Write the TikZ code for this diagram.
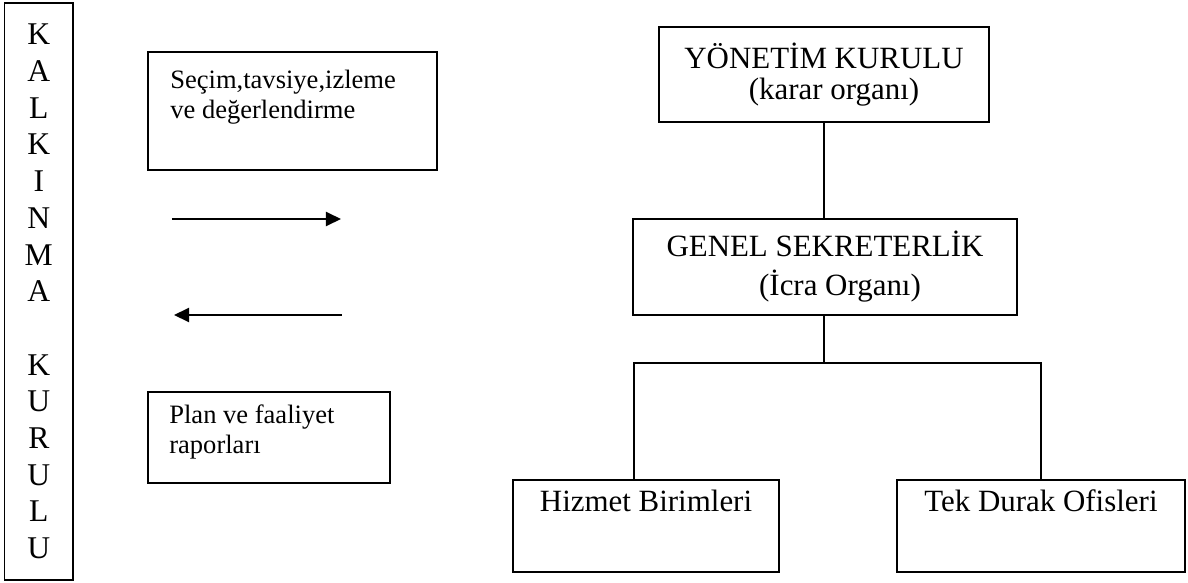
\documentclass[tikz,border=0pt]{standalone}
\usepackage{fontspec}
\setmainfont{Liberation Serif}
\usetikzlibrary{arrows.meta}

\begin{document}
\begin{tikzpicture}[scale=0.2]
\tikzstyle{every node}+=[inner sep=0pt]
\tikzstyle{kutu}=[draw, line width=1pt]
\tikzstyle{buyuk}=[font=\fontsize{17.6}{17.6}\selectfont, align=center]
\tikzstyle{kucuk}=[font=\fontsize{15.1}{17.2}\selectfont, align=left, anchor=north west]
\tikzstyle{ok}=[line width=1.1pt, -{Triangle[length=0.3cm, width=0.28cm]}]
\useasboundingbox (0,0) rectangle (118.8,-58.2);
% sol taraf
\node [kutu, minimum width=1.37cm, minimum height=11.54cm, align=center, font=\fontsize{18}{20.88}\selectfont] (kk) at (3.88,-29.15) {K\\A\\L\\K\\I\\N\\M\\A\\\mbox{}\\K\\U\\R\\U\\L\\U};
\node [kutu, minimum width=5.78cm, minimum height=2.36cm] (secim) at (29.25,-11.1) {};
\node [kucuk] (secimyazi) at (17.0,-7.0) {Seçim,tavsiye,izleme\\ve değerlendirme};
\node [kutu, minimum width=4.84cm, minimum height=1.82cm] (plan) at (26.9,-43.75) {};
\node [kucuk] (planyazi) at (16.9,-40.4) {Plan ve faaliyet\\raporları};
\coordinate (ok1a) at (17.2,-21.9);
\coordinate (ok1b) at (34.1,-21.9);
\coordinate (ok2a) at (34.2,-31.5);
\coordinate (ok2b) at (17.4,-31.5);
\draw [ok] (ok1a) -- (ok1b);
\draw [ok] (ok2a) -- (ok2b);
% sag taraf
\node [kutu, buyuk, minimum width=6.6cm, minimum height=1.9cm] (yk) at (82.4,-7.45) {YÖNETİM KURULU\\\hspace{0.4cm}(karar organı)};
\node [kutu, buyuk, font=\fontsize{17.6}{22.2}\selectfont, minimum width=7.68cm, minimum height=1.92cm] (gs) at (82.5,-26.7) {GENEL SEKRETERLİK\\\hspace{0.6cm}(İcra Organı)};
\node [kutu, buyuk, minimum width=5.32cm, text height=0.62cm, text depth=1.22cm] (hb) at (64.6,-52.6) {Hizmet Birimleri};
\node [kutu, buyuk, minimum width=5.76cm, text height=0.62cm, text depth=1.22cm] (td) at (104.1,-52.6) {Tek Durak Ofisleri};
\coordinate (sol) at (63.4,-36.3);
\draw [line width=1pt] (yk.south) -- (yk.south |- gs.north);
\draw [line width=1pt] (gs.south -| yk.south) -- (sol -| yk.south);
\draw [line width=1pt] (hb.north -| sol) -- (sol) -- (sol -| td.north) -- (td.north);
\end{tikzpicture}
\end{document}
